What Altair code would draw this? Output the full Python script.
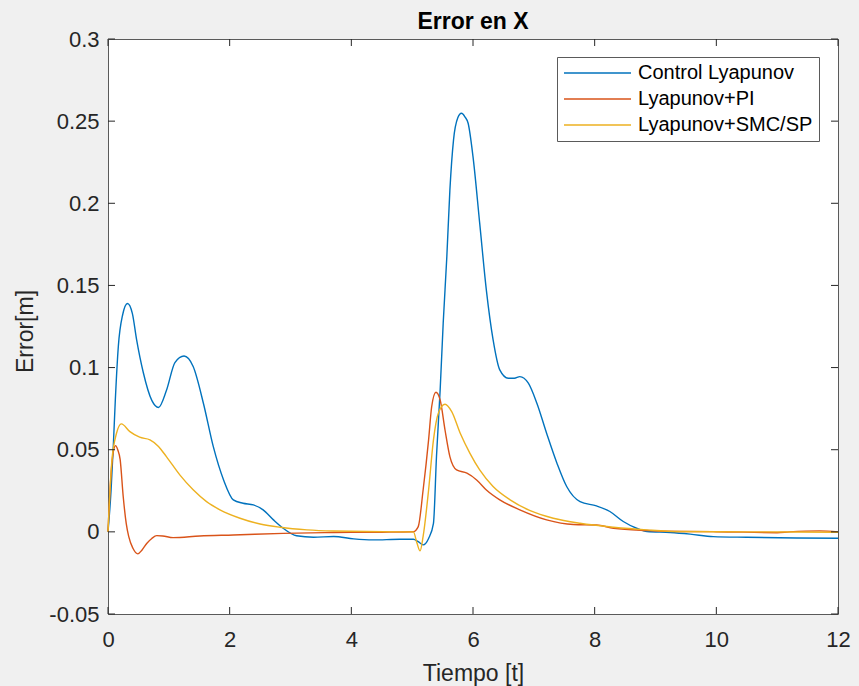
import altair as alt
import pandas as pd

FONT = "Liberation Sans"

series_names = ["Control Lyapunov", "Lyapunov+PI", "Lyapunov+SMC/SP"]
series_colors = ["#0072BD", "#D95319", "#EDB120"]

t_lyap = [0, 0.05, 0.087, 0.12, 0.17, 0.24, 0.32, 0.40, 0.47, 0.58, 0.72, 0.83, 0.96,
          1.10, 1.25, 1.40, 1.57, 1.73, 1.90, 2.06, 2.22, 2.39, 2.55, 2.72, 2.88, 3.1,
          3.38, 3.71, 4.04, 4.36, 4.8, 5.02, 5.10, 5.18, 5.27, 5.35, 5.40, 5.46, 5.51,
          5.57, 5.62, 5.68, 5.75, 5.81, 5.87, 5.92, 6.00, 6.11, 6.22, 6.33, 6.44, 6.58,
          6.68, 6.77, 6.91, 7.05, 7.21, 7.38, 7.54, 7.76, 8.03, 8.25, 8.47, 8.69, 8.86,
          9.24, 9.57, 9.95, 10.5, 11.32, 12.0]
v_lyap = [0, 0.025, 0.052, 0.080, 0.113, 0.132, 0.139, 0.133, 0.117, 0.097, 0.080, 0.0757, 0.086,
          0.103, 0.107, 0.1006, 0.078, 0.052, 0.0316, 0.0195, 0.0174, 0.0164, 0.0134, 0.0073, 0.0022, -0.0024,
          -0.0033, -0.0028, -0.0043, -0.0049, -0.0045, -0.0045, -0.006, -0.0079, -0.004, 0.0052, 0.046, 0.0864, 0.127,
          0.1676, 0.208, 0.2386, 0.252, 0.2548, 0.2525, 0.2487, 0.2284, 0.1879, 0.147, 0.117, 0.0986, 0.0935,
          0.0935, 0.0945, 0.0905, 0.0783, 0.06, 0.0418, 0.0276, 0.0184, 0.0158, 0.0124, 0.0063, 0.0022, 0.0002,
          -0.0004, -0.0014, -0.0029, -0.0033, -0.0037, -0.0039]

t_pi = [0, 0.05, 0.10, 0.125, 0.16, 0.2, 0.25, 0.30, 0.34, 0.41, 0.49, 0.56, 0.64, 0.72,
        0.80, 0.90, 1.07, 1.51, 2.06, 2.88, 3.71, 4.5, 5.02, 5.10, 5.18, 5.27, 5.32, 5.39,
        5.46, 5.54, 5.62, 5.73, 5.90, 6.06, 6.22, 6.44, 6.77, 7.21, 7.65, 8.03, 8.31, 8.86,
        9.4, 10.0, 11.0, 11.2, 11.7, 12.0]
v_pi = [0, 0.035, 0.051, 0.0525, 0.050, 0.044, 0.0215, 0.005, -0.0028, -0.010, -0.0134, -0.011, -0.0069, -0.004,
        -0.0023, -0.0025, -0.0035, -0.0025, -0.0019, -0.0009, -0.0004, -0.0002, 0.0001, 0.0032, 0.0255, 0.056, 0.076, 0.085,
        0.0803, 0.062, 0.0458, 0.0377, 0.0357, 0.0316, 0.0255, 0.0195, 0.0134, 0.0073, 0.0045, 0.0042, 0.0022, 0.0008,
        0.0002, 0.0001, -0.0005, 0.0, 0.0006, 0.0]

t_smc = [0, 0.06, 0.14, 0.22, 0.36, 0.52, 0.69, 0.83, 0.96, 1.18, 1.40, 1.62, 1.84, 2.17,
         2.50, 2.83, 3.27, 3.71, 4.8, 5.02, 5.08, 5.13, 5.18, 5.27, 5.35, 5.43, 5.54, 5.65,
         5.79, 5.95, 6.11, 6.33, 6.61, 6.94, 7.32, 7.76, 8.31, 8.86, 9.4, 10.5, 12.0]
v_smc = [0, 0.0418, 0.06, 0.0657, 0.061, 0.0576, 0.056, 0.052, 0.0458, 0.0347, 0.0256, 0.0184, 0.0134, 0.0083,
         0.0048, 0.0028, 0.0012, 0.0005, 0.0, 0.0, -0.007, -0.0116, -0.0028, 0.0255, 0.056, 0.0722, 0.0777, 0.0732,
         0.06, 0.0478, 0.0377, 0.0276, 0.0195, 0.0129, 0.0083, 0.0052, 0.0028, 0.0012, 0.0002, 0.0, -0.0002]

x_ticks = [0, 2, 4, 6, 8, 10, 12]
y_ticks = [-0.05, 0, 0.05, 0.1, 0.15, 0.2, 0.25, 0.3]

rows = []
for name, ts, vs in zip(series_names, [t_lyap, t_pi, t_smc], [v_lyap, v_pi, v_smc]):
    for t, v in zip(ts, vs):
        rows.append({"serie": name, "t": t, "v": v})
df = pd.DataFrame(rows)

W, H = 730, 575
TICK_COLOR = "#262626"
xs = alt.Scale(domain=[0, 12], nice=False, zero=False)
ys = alt.Scale(domain=[-0.05, 0.3], nice=False, zero=False)

x_axis = alt.Axis(
    values=x_ticks, title="Tiempo [t]", labelFontSize=22, labelFont=FONT, labelFlush=False,
    labelColor=TICK_COLOR, labelPadding=15, ticks=False, domain=False, grid=False,
    titleFontSize=23, titleFont=FONT, titleFontWeight="normal", titleColor=TICK_COLOR,
    titleY=66, titleBaseline="alphabetic")
y_axis = alt.Axis(
    values=y_ticks, title="Error[m]", labelFontSize=22, labelFont=FONT, labelFlush=False,
    labelColor=TICK_COLOR, labelPadding=9, ticks=False, domain=False, grid=False,
    labelExpr="(datum.value < 0 ? '-' : '') + format(abs(datum.value), '~g')",
    titleFontSize=23, titleFont=FONT, titleFontWeight="normal", titleColor=TICK_COLOR,
    titleX=-76, titleY=292, titleAngle=270, titleBaseline="alphabetic")

lines = alt.Chart(df).mark_line(strokeWidth=1.4, interpolate="monotone").encode(
    x=alt.X("t:Q", scale=xs, axis=x_axis),
    y=alt.Y("v:Q", scale=ys, axis=y_axis),
    color=alt.Color("serie:N", scale=alt.Scale(domain=series_names, range=series_colors),
                    legend=alt.Legend(
                        title=None, orient="none", legendX=449, legendY=18, direction="vertical",
                        symbolType="stroke", symbolSize=4489, symbolStrokeWidth=1.4, clipHeight=20,
                        labelFontSize=20, labelFont=FONT, labelColor="#000000", labelOffset=6,
                        labelLimit=400,
                        padding=6, rowPadding=6, fillColor="white", strokeColor="#5a5a5a")),
)

ydf = pd.DataFrame({"v": y_ticks})
xdf = pd.DataFrame({"t": x_ticks})

left_ticks = alt.Chart(ydf).mark_rule(color=TICK_COLOR, strokeWidth=1).encode(
    y=alt.Y("v:Q", scale=ys, axis=y_axis), x=alt.value(0), x2=alt.value(7))
right_ticks = alt.Chart(ydf).mark_rule(color=TICK_COLOR, strokeWidth=1).encode(
    y=alt.Y("v:Q", scale=ys, axis=y_axis), x=alt.value(W - 7), x2=alt.value(W))
bottom_ticks = alt.Chart(xdf).mark_rule(color=TICK_COLOR, strokeWidth=1).encode(
    x=alt.X("t:Q", scale=xs, axis=x_axis), y=alt.value(H), y2=alt.value(H - 7))
top_ticks = alt.Chart(xdf).mark_rule(color=TICK_COLOR, strokeWidth=1).encode(
    x=alt.X("t:Q", scale=xs, axis=x_axis), y=alt.value(0), y2=alt.value(7))

chart = alt.layer(lines, left_ticks, right_ticks, bottom_ticks, top_ticks).properties(
    width=W, height=H,
    title=alt.TitleParams("Error en X", fontSize=23, font=FONT, fontWeight="bold",
                          color="#000000", anchor="middle", baseline="alphabetic",
                          frame="group", offset=9, dy=33),
    autosize=alt.AutoSizeParams(type="none"),
    padding={"left": 108, "top": 39, "right": 21, "bottom": 72},
    background="#f0f0f0",
).configure_view(
    fill="white", stroke="#5a5a5a", strokeWidth=1
)

chart.save("out.html", embed_options={"renderer": "svg", "actions": False})
